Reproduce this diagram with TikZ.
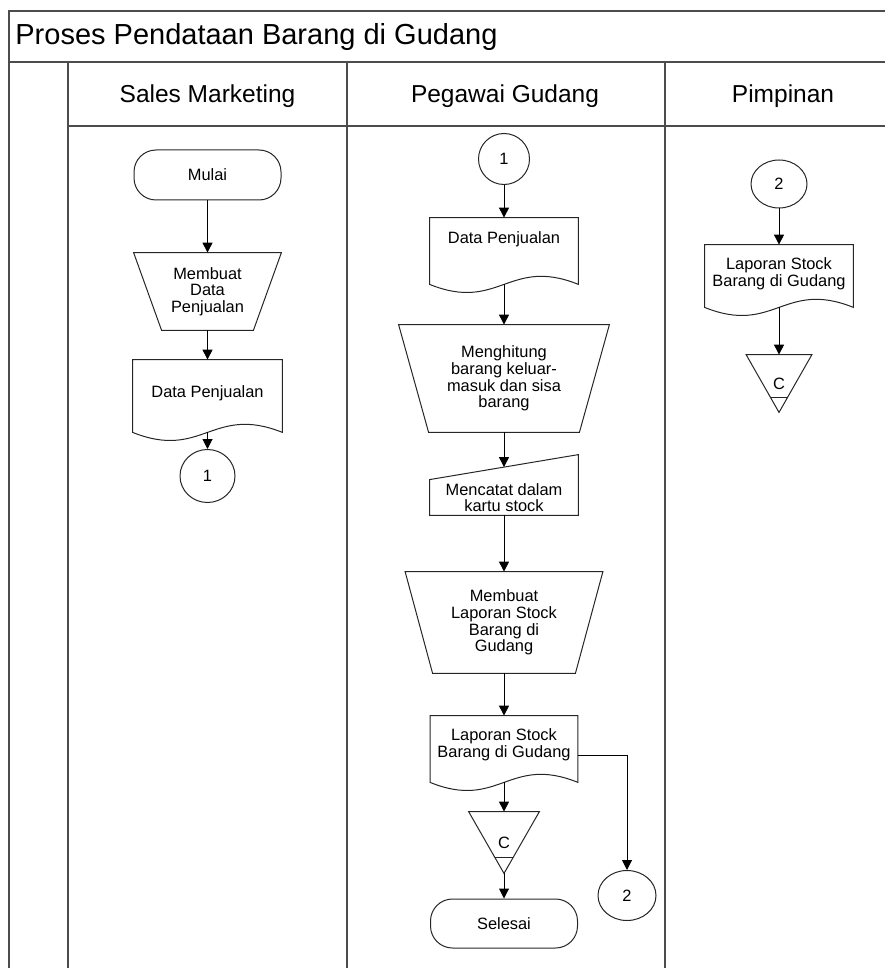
\documentclass[tikz,border=0pt]{standalone}
\usepackage{fontspec}
\setmainfont{Liberation Sans}
\usetikzlibrary{arrows.meta,calc,shapes.geometric}

\newcommand\fcsmall{\fontsize{8.2}{8.35}\selectfont}

% document symbol: flat top, wavy bottom whose mid-line lies #2 below the node
\newcommand\docoutline[2]{%
  \draw[outline] let \p1=(#1.north west), \p2=(#1.north east), \n1={\x2-\x1} in
    (#1.north west) -- (#1.north east) -- ([yshift=-#2]#1.south east)
    .. controls +(-0.467*\n1,14pt) and +(0.467*\n1,-14pt) .. ([yshift=-#2]#1.south west) -- cycle;
  \coordinate (#1-b) at ([yshift=-#2]#1.south);
}
% manual operation: trapezoid narrowing downwards by #2 on each side
\newcommand\manualop[2]{%
  \draw[outline] (#1.north west) -- (#1.north east) -- ([xshift=-#2]#1.south east)
    -- ([xshift=#2]#1.south west) -- cycle;
}
% manual input: top edge rising by #2 towards the right
\newcommand\manualin[3]{%
  \draw[outline] (#1.south west) -- (#1.south east) -- ([yshift=#2]#1.north east)
    -- (#1.north west) -- cycle;
  \coordinate (#1-t) at ([yshift=#3]#1.north);
}
% off-page reference: downward triangle with a bar #2 above the apex, half-length #3
\newcommand\offpage[3]{%
  \draw[outline] (#1.north west) -- (#1.north east) -- (#1.south) -- cycle;
  \draw[outline] ([shift={(-#3,#2)}]#1.south) -- ([shift={(#3,#2)}]#1.south);
}

\tikzset{
  lane/.style={draw=black!70, line width=0.8pt},
  outline/.style={draw=black!85, line width=0.5pt},
  flow/.style={draw=black, line width=0.5pt, -{Triangle[length=5pt,width=5pt]}},
  fcbox/.style={inner sep=1pt, align=center, font=\fcsmall},
  terminal/.style={fcbox, outline, rounded corners=11pt, minimum width=73.5pt, minimum height=25pt},
  connector/.style={fcbox, outline, ellipse, inner sep=0pt},
  plain/.style={fcbox, rectangle, minimum width=#1},
  heading/.style={anchor=base, font=\fontsize{12.25}{14}\selectfont},
}

\begin{document}
\begin{tikzpicture}[x=0.5pt, y=-0.5pt]
\useasboundingbox (0,0) rectangle (885,968);

% swimlane frame
\draw[lane] (9,968) -- (9,11) -- (885,11);
\draw[lane] (9,62) -- (885,62);
\draw[lane] (68,62) -- (68,968);
\draw[lane] (68,126) -- (885,126);
\draw[lane] (347,62) -- (347,968);
\draw[lane] (665,62) -- (665,968);

\node[anchor=base west, inner sep=0pt, font=\fontsize{14.5}{17}\selectfont] (title) at (15,45)
  {Proses Pendataan Barang di Gudang};
\node[heading] (hsales) at (207.5,103) {Sales Marketing};
\node[heading] (hgudang) at (505,103) {Pegawai Gudang};
\node[heading] (hpimpin) at (783,103) {Pimpinan};

% Sales Marketing
\node[terminal] (mulai) at (207.5,175) {Mulai};
\node[plain=73.5pt, minimum height=38.5pt] (mbuat) at (207.5,291.5) {Membuat\\Data\\Penjualan};
\manualop{mbuat}{14pt}
\node[plain=74.5pt, minimum height=33pt] (dpa) at (207.5,393) {Data Penjualan};
\docoutline{dpa}{3pt}
\node[connector, minimum width=27.5pt, minimum height=26.5pt] (c1a) at (207.5,476) {1};

% Pegawai Gudang
\node[connector, minimum width=25.5pt, minimum height=25.5pt] (c1b) at (504,159) {1};
\node[plain=74pt, minimum height=21pt] (dpb) at (504,239) {Data Penjualan};
\docoutline{dpb}{12pt}
\node[plain=105pt, minimum height=53.5pt] (hitung) at (504,378.5)
  {Menghitung\\barang keluar-\\masuk dan sisa\\barang};
\manualop{hitung}{15pt}
\node[plain=74pt, minimum height=17.5pt, inner sep=0pt] (catat) at (504,497.5)
  {Mencatat dalam\\kartu stock};
\manualin{catat}{12.5pt}{6.25pt}
\node[plain=98.5pt, minimum height=50.5pt] (lapor) at (504,622.5)
  {Membuat\\Laporan Stock\\Barang di\\Gudang};
\manualop{lapor}{13.75pt}
\node[plain=73.5pt, minimum height=29pt] (dpc) at (504,745)
  {Laporan Stock\\Barang di Gudang};
\docoutline{dpc}{4pt}
\node[fcbox, minimum width=35pt, minimum height=30.5pt] (offc) at (504,842.5) {C};
\offpage{offc}{8pt}{4.6pt}
\node[terminal, minimum height=24.5pt] (selesai) at (504,923.5) {Selesai};
\node[connector, minimum width=29pt, minimum height=25pt] (c2a) at (627,895.5) {2};

% Pimpinan
\node[connector, minimum width=28pt, minimum height=24pt] (c2b) at (779,184) {2};
\node[plain=74pt, minimum height=29pt] (dpd) at (779,274)
  {Laporan Stock\\Barang di Gudang};
\docoutline{dpd}{2pt}
\node[fcbox, minimum width=32.5pt, minimum height=28.5pt] (offd) at (779,383.5) {C};
\offpage{offd}{7.5pt}{4.3pt}

% flow lines
\draw[flow] (mulai) -- (mbuat);
\draw[flow] (mbuat) -- (dpa);
\draw[flow] (dpa-b) -- (c1a);
\draw[flow] (c1b) -- (dpb);
\draw[flow] (dpb-b) -- (hitung);
\draw[flow] (hitung) -- (catat-t);
\draw[flow] (catat) -- (lapor);
\draw[flow] (lapor) -- (dpc);
\draw[flow] (dpc-b) -- (offc);
\draw[flow] (offc.south) -- (selesai);
\draw[flow] ([yshift=-5pt]dpc.east) -| (c2a);
\draw[flow] (c2b) -- (dpd);
\draw[flow] (dpd-b) -- (offd);
\end{tikzpicture}
\end{document}
